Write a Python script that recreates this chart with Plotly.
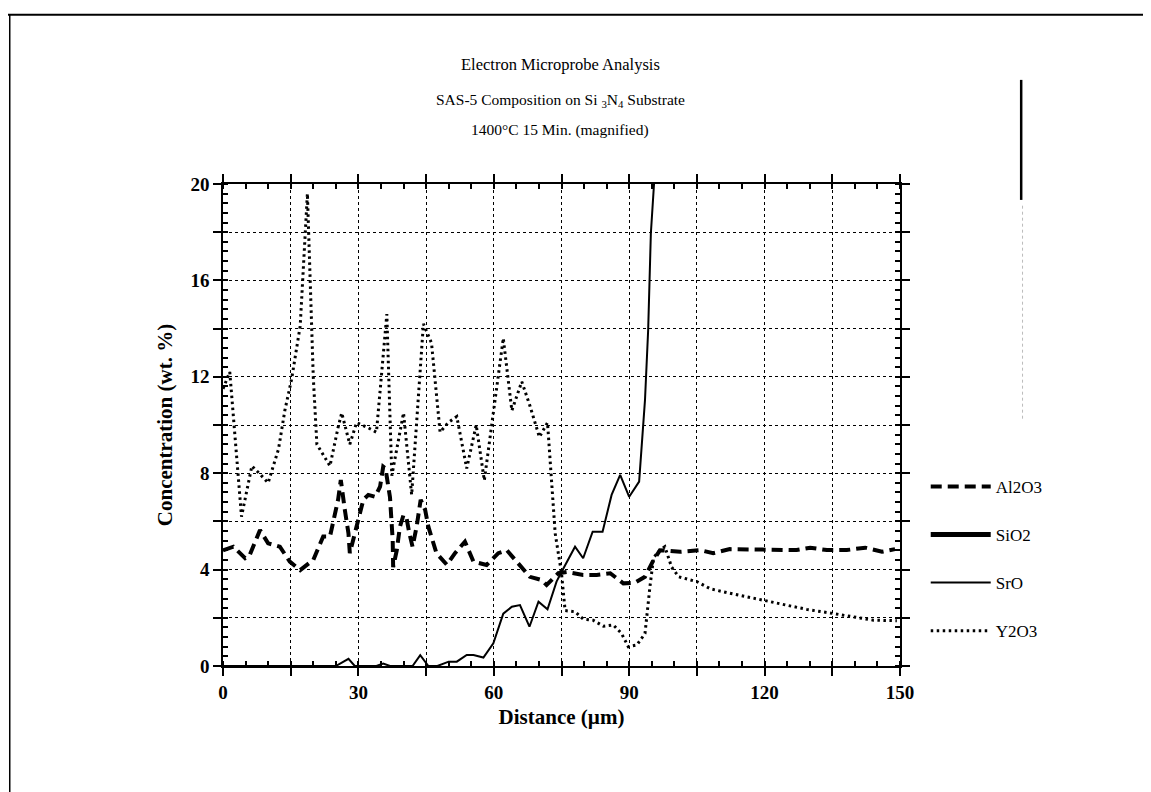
import plotly.graph_objects as go

# --- data ---
y2o3_x = [0, 1.5, 4.1, 6.4, 8, 10, 12.3, 13.7, 15.2, 17.1,
          18.7, 19.3, 20, 20.8, 23.7, 25.5, 26.3, 28.1, 29.6, 32,
          34, 36.3, 37.4, 40, 41.8, 44.4, 46.2, 48.1, 49.9, 51.8,
          54, 56.1, 57.9, 62.1, 64, 66.2, 68, 70.1, 71.9, 73.6,
          75, 75.8, 78, 79.8, 82, 84.3, 86.5, 88.3, 89.8, 91.7,
          93.5, 94.6, 95.4, 96.8, 97.9, 99.4, 101, 105, 108, 111.6,
          115.3, 119.7, 124.2, 129.3, 134.5, 139, 144.1, 149.3]
y2o3_y = [11.5, 12.2, 6.2, 8.3, 8.0, 7.6, 9.0, 10.6, 11.9, 14.1,
          19.6, 16.4, 12.0, 9.2, 8.3, 9.9, 10.5, 9.2, 10.1, 9.9,
          9.7, 14.6, 7.9, 10.5, 7.1, 14.2, 13.4, 9.7, 10.1, 10.35,
          8.2, 10.0, 7.7, 13.6, 10.6, 11.8, 10.8, 9.5, 10.1, 5.5,
          3.85, 2.3, 2.25, 1.95, 1.9, 1.65, 1.7, 1.35, 0.8, 0.87,
          1.35, 3.3, 4.5, 4.8, 4.95, 4.1, 3.7, 3.5, 3.2, 3.05,
          2.9, 2.75, 2.55, 2.35, 2.2, 2.05, 1.9, 1.88]

al2o3_x = [0, 2.3, 4.9, 5.9, 8.2, 10, 12.6, 14.8, 17.1, 20,
           22.2, 23.7, 25.5, 26.1, 27, 27.8, 28.1, 29.2, 31.1, 32.2,
           33.7, 34.8, 35.5, 36, 37, 37.6, 37.7, 38.5, 39.2, 40,
           40.7, 41.3, 42, 42.9, 43.8, 44.8, 45.5, 47.3, 49.6, 51.4,
           53.6, 55.5, 58.4, 61, 62.9, 65.4, 68, 70.6, 71.7, 74.3,
           76.2, 79.8, 82.8, 85.8, 88.7, 91.3, 93.5, 95.4, 96.8, 97.9,
           101.3, 105.7, 108.6, 112.3, 116, 120.5, 122, 127.1, 130.1, 133.8,
           138.2, 142.3, 146, 148.9]
al2o3_y = [4.8, 4.95, 4.47, 4.6, 5.64, 5.09, 4.95, 4.33, 3.98, 4.4,
           5.37, 5.37, 6.9, 7.72, 6.47, 5.5, 4.68, 5.5, 6.9, 7.1,
           7.02, 7.44, 8.27, 8.2, 7.0, 5.23, 4.1, 4.8, 5.78, 6.27,
           6.1, 5.5, 4.95, 5.78, 6.9, 6.47, 5.78, 4.68, 4.2, 4.68,
           5.16, 4.33, 4.19, 4.68, 4.8, 4.26, 3.7, 3.57, 3.36, 3.85,
           3.9, 3.78, 3.78, 3.85, 3.43, 3.46, 3.7, 4.4, 4.8, 4.79,
           4.74, 4.81, 4.68, 4.85, 4.84, 4.84, 4.8, 4.81, 4.91, 4.81,
           4.81, 4.91, 4.74, 4.85]

sro_x = [0, 25, 27.8, 29.2, 34, 35.5, 37, 42, 43.7, 45.5,
         47.5, 50, 51.8, 54, 55.5, 57.7, 59.9, 62.1, 64, 65.8,
         67.9, 69.9, 71.9, 73.9, 75, 78, 79.8, 81.9, 84.1, 86.1,
         88, 90, 92.2, 92.8, 93.5, 94.2, 94.8, 95.5]
sro_y = [0, 0, 0.3, 0, 0, 0.1, 0, 0, 0.45, 0,
         0, 0.18, 0.18, 0.46, 0.46, 0.35, 0.94, 2.17, 2.46, 2.53,
         1.63, 2.67, 2.35, 3.5, 3.9, 4.95, 4.47, 5.57, 5.57, 7.1,
         7.93, 7.02, 7.65, 9.38, 11.04, 13.94, 17.95, 20]

# SiO2 is off the magnified scale: legend entry only
sio2_x = [None]
sio2_y = [None]

x_tick_vals = list(range(0, 151, 15))
x_tick_text = ['0', '', '30', '', '60', '', '90', '', '120', '', '150']
y_tick_vals = list(range(0, 21, 2))
y_tick_text = ['0', '', '4', '', '8', '', '12', '', '16', '', '20']

serif = 'Liberation Serif, Times New Roman, serif'

fig = go.Figure()
fig.add_trace(go.Scatter(x=al2o3_x, y=al2o3_y, name='Al2O3', mode='lines', legendgroup='a',
                         line=dict(color='black', width=4, dash='11px,6px')))
fig.add_trace(go.Scatter(x=sio2_x, y=sio2_y, name='SiO2', mode='lines', legendgroup='b',
                         line=dict(color='black', width=5)))
fig.add_trace(go.Scatter(x=sro_x, y=sro_y, name='SrO', mode='lines', legendgroup='c',
                         line=dict(color='black', width=2)))
fig.add_trace(go.Scatter(x=y2o3_x, y=y2o3_y, name='Y2O3', mode='lines', legendgroup='d',
                         line=dict(color='black', width=3, dash='2.5px,3.5px')))

axis_common = dict(showline=True, linecolor='black', linewidth=1.5, mirror='allticks',
                   ticks='outside', ticklen=8, tickwidth=1.5, tickcolor='black',
                   showgrid=True, gridcolor='black', gridwidth=1, griddash='dot',
                   zeroline=False,
                   tickfont=dict(family=serif, size=19, color='black', weight='bold'))

fig.update_xaxes(range=[0, 150], tickmode='array', tickvals=x_tick_vals, ticktext=x_tick_text,
                 minor=dict(ticks='inside', dtick=5, ticklen=5, tickcolor='black', showgrid=False),
                 title=dict(text='Distance (µm)', standoff=8,
                            font=dict(family=serif, size=21, color='black', weight='bold')),
                 **axis_common)
fig.update_yaxes(range=[0, 20], tickmode='array', tickvals=y_tick_vals, ticktext=y_tick_text,
                 minor=dict(ticks='inside', dtick=0.4, ticklen=5, tickcolor='black', showgrid=False),
                 title=dict(text='Concentration (wt. %)', standoff=12,
                            font=dict(family=serif, size=21, color='black', weight='bold')),
                 **axis_common)

titles = [
    ('Electron Microprobe Analysis', 1.247, 16.5),
    ('SAS-5 Composition on Si <sub>3</sub>N<sub>4</sub> Substrate', 1.174, 15.5),
    ('1400°C 15 Min. (magnified)', 1.112, 15.5),
]
for text, ypos, size in titles:
    fig.add_annotation(text=text, x=0.498, y=ypos, xref='paper', yref='paper', showarrow=False,
                       yanchor='middle',
                       font=dict(family=serif, size=size, color='black'))

# scanned page border marks
fig.add_shape(type='line', xref='paper', yref='paper', x0=-0.33, x1=1.372, y0=1.351, y1=1.351,
              line=dict(color='black', width=2))
fig.add_shape(type='line', xref='paper', yref='paper', x0=-0.315, x1=-0.315, y0=1.351, y1=-0.27,
              line=dict(color='black', width=1.5))
fig.add_shape(type='line', xref='paper', yref='paper', x0=1.179, x1=1.179, y0=1.216, y1=0.967,
              line=dict(color='black', width=2.5))
fig.add_shape(type='line', xref='paper', yref='paper', x0=1.181, x1=1.181, y0=0.955, y1=0.51,
              line=dict(color='#bbbbbb', width=1, dash='dot'))

fig.update_layout(
    width=1151, height=792, autosize=False,
    margin=dict(l=215, r=259, t=176, b=134),
    paper_bgcolor='white', plot_bgcolor='white',
    font=dict(family=serif, color='black'),
    legend=dict(x=1.038, y=0.409, xanchor='left', yanchor='top', tracegroupgap=23,
                itemwidth=60, traceorder='grouped',
                font=dict(family=serif, size=17, color='black'),
                bgcolor='rgba(0,0,0,0)'),
)

fig.write_html("out.html")
